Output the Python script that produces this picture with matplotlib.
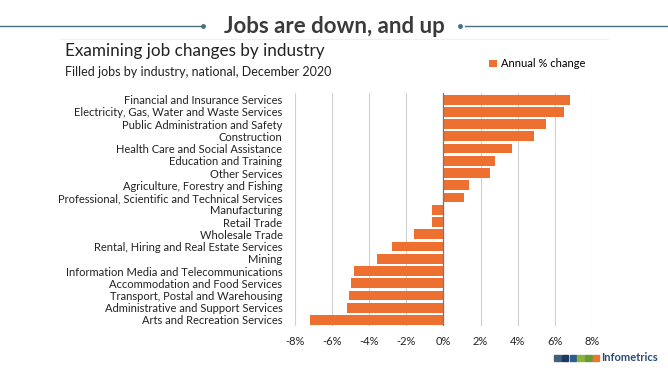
import matplotlib.pyplot as plt
from matplotlib.patches import Rectangle
from matplotlib.lines import Line2D

industries = [
    "Financial and Insurance Services",
    "Electricity, Gas, Water and Waste Services",
    "Public Administration and Safety",
    "Construction",
    "Health Care and Social Assistance",
    "Education and Training",
    "Other Services",
    "Agriculture, Forestry and Fishing",
    "Professional, Scientific and Technical Services",
    "Manufacturing",
    "Retail Trade",
    "Wholesale Trade",
    "Rental, Hiring and Real Estate Services",
    "Mining",
    "Information Media and Telecommunications",
    "Accommodation and Food Services",
    "Transport, Postal and Warehousing",
    "Administrative and Support Services",
    "Arts and Recreation Services",
]
annual_change = [6.8, 6.5, 5.5, 4.9, 3.7, 2.8, 2.5, 1.4, 1.1,
                 -0.6, -0.6, -1.6, -2.8, -3.6, -4.8, -5.0, -5.1, -5.2, -7.2]
xticks = [-8, -6, -4, -2, 0, 2, 4, 6, 8]
logo_colors = ["#3f5f7a", "#1d3a5e", "#2c5d8f", "#8cb43c", "#6a9a38", "#ee7431"]

orange = "#ED7031"
plt.rcParams['font.family'] = ['Lato', 'DejaVu Sans']

fig = plt.figure(figsize=(6.68, 3.71), dpi=100)
ax = fig.add_axes([0.4416, 0.121, 0.4446, 0.627])

y = list(range(len(industries)))
ax.barh(y, annual_change, height=0.8, color=orange, label="Annual % change", zorder=3)
ax.set_ylim(len(industries) - 0.5, -0.5)
ax.set_xlim(-8, 8)
ax.set_yticks(y)
ax.set_yticklabels(industries, fontsize=8.0, color="#222222")
ax.set_xticks(xticks)
ax.set_xticklabels(["%d%%" % v for v in xticks], fontsize=8, color="#222222")
ax.tick_params(axis='y', length=0, pad=9)
ax.tick_params(axis='x', length=0, pad=7)
ax.grid(axis='x', color="#d0d0d0", linewidth=0.8, zorder=0)
for s in ax.spines.values():
    s.set_visible(False)
ax.axvline(0, color="#777777", linewidth=0.9, zorder=4)

# header
hy = 0.93
fig.text(0.5, hy - 0.002, "Jobs are down, and up", ha='center', va='center',
         fontsize=16, fontweight='bold', color="#3a3a3a")
fig.add_artist(Line2D([0, 0.303], [hy, hy], color="#4a6f82", linewidth=1, transform=fig.transFigure))
fig.add_artist(Line2D([0.696, 1], [hy, hy], color="#4a6f82", linewidth=1, transform=fig.transFigure))
fig.add_artist(Line2D([0.3035], [hy], marker='o', markersize=2.5, color="#4a6f82", transform=fig.transFigure))
fig.add_artist(Line2D([0.689], [hy], marker='o', markersize=2.5, color="#4a6f82", transform=fig.transFigure))
fig.add_artist(Line2D([0.09, 0.91], [0.895, 0.895], color="#f0f0f0", linewidth=0.8, transform=fig.transFigure))

fig.text(0.097, 0.862, "Examining job changes by industry", fontsize=12.3, color="#222222", va='center')
fig.text(0.097, 0.805, "Filled jobs by industry, national, December 2020", fontsize=9, color="#222222", va='center')

fig.legend(loc='center left', bbox_to_anchor=(0.717, 0.828), frameon=False, fontsize=8,
           handlelength=0.7, handleheight=0.7, handletextpad=0.4)

# logo
for i, c in enumerate(logo_colors):
    fig.add_artist(Rectangle((0.830 + i * 0.0115, 0.027), 0.0095, 0.017,
                             color=c, transform=fig.transFigure))
fig.text(0.985, 0.036, "Infometrics", fontsize=8, fontweight='bold', color="#2b4a72",
         va='center', ha='right')

fig.savefig("out.png", dpi=100)
